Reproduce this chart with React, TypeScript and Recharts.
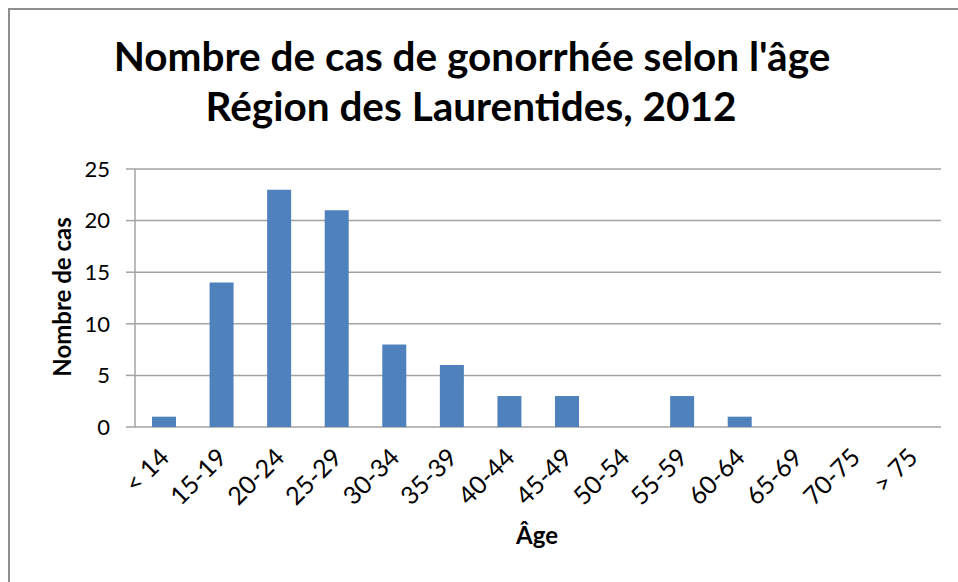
import React from "react";
import { BarChart, Bar, XAxis, YAxis, CartesianGrid } from "recharts";

const categories = ["< 14", "15-19", "20-24", "25-29", "30-34", "35-39", "40-44", "45-49", "50-54", "55-59", "60-64", "65-69", "70-75", "> 75"];
const cases = [1, 14, 23, 21, 8, 6, 3, 3, 0, 3, 1, 0, 0, 0];
const yTicks = [0, 5, 10, 15, 20, 25];
const boundaryTicks = [...categories.map((_, i) => i), categories.length];

const data = categories.map((c, i) => ({ age: c, cas: cases[i] }));

const FONT = "Lato, 'Open Sans', sans-serif";
const GRAY = "#A3A3A3";

const XTick = (props: any) => {
  const { x, y, payload } = props;
  return (
    <g transform={`translate(${x + 7},${y + 24})`}>
      <text x={0} y={0} textAnchor="end" transform="rotate(-45)" fontSize={25} fontFamily={FONT} fill="#000">
        {payload.value}
      </text>
    </g>
  );
};

const Empty = () => <g />;

export default function App() {
  return (
    <div style={{ position: "absolute", left: 0, top: 0, width: 958, height: 582, overflow: "hidden", background: "#fff" }}>
      <div style={{ position: "absolute", left: 8, top: 8, width: 1200, height: 1200, border: "2px solid #8E8E8E", boxSizing: "border-box" }} />
      <div style={{ position: "absolute", left: 0, top: 0 }}>
        <BarChart width={958} height={582} data={data} margin={{ top: 169, right: 17, bottom: 95, left: 75 }} barSize={24}>
          <text x={472} y={71} textAnchor="middle" fontSize={40.5} fontWeight="bold" fontFamily={FONT} fill="#000">
            Nombre de cas de gonorrhée selon l'âge
          </text>
          <text x={471} y={121} textAnchor="middle" fontSize={40.5} fontWeight="bold" fontFamily={FONT} fill="#000">
            Région des Laurentides, 2012
          </text>
          <text x={61} y={297} textAnchor="middle" dominantBaseline="central" transform="rotate(-90, 61, 297)" fontSize={24} fontWeight="bold" fontFamily={FONT} fill="#000">
            Nombre de cas
          </text>
          <text x={537} y={544} textAnchor="middle" fontSize={24} fontWeight="bold" fontFamily={FONT} fill="#000">
            Âge
          </text>
          <CartesianGrid xAxisId="cat" vertical={false} stroke={GRAY} strokeWidth={1.5} />
          <XAxis xAxisId="b" type="number" domain={[0, categories.length]} ticks={boundaryTicks} height={0} tick={Empty} tickSize={9} stroke={GRAY} strokeWidth={1.5} allowDataOverflow />
          <XAxis xAxisId="cat" dataKey="age" type="category" height={60} axisLine={false} tickLine={false} tick={XTick} interval={0} />
          <YAxis domain={[0, 25]} ticks={yTicks} width={60} tickSize={9} tickMargin={16} stroke={GRAY} strokeWidth={1.5} tick={{ fill: "#000", fontSize: 22, fontFamily: FONT }} />
          <Bar xAxisId="cat" dataKey="cas" fill="#4F81BD" isAnimationActive={false} />
        </BarChart>
      </div>
    </div>
  );
}
